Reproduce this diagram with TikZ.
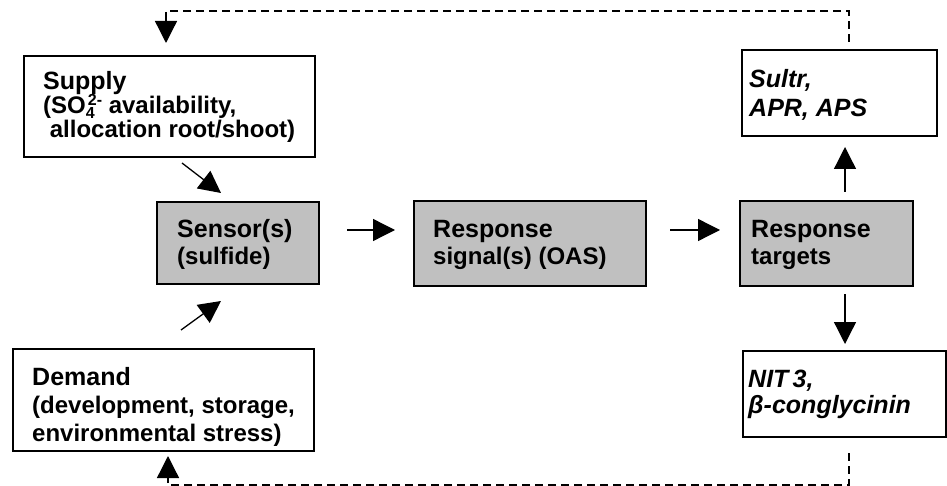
\documentclass[tikz,border=0pt]{standalone}
\usepackage{fontspec}
\setmainfont{Liberation Sans}
\usetikzlibrary{arrows.meta}
\definecolor{boxgray}{RGB}{192,192,192}
\begin{document}
\begin{tikzpicture}[x=1pt,y=-1pt,
  wbox/.style={draw=black, line width=1.8pt, fill=white, anchor=north west, inner sep=0pt},
  gbox/.style={draw=black, line width=1.8pt, fill=boxgray, anchor=north west, inner sep=0pt},
  ttl/.style={anchor=base west, inner sep=0pt, font=\fontsize{25}{28}\selectfont\bfseries},
  sub/.style={anchor=base west, inner sep=0pt, font=\fontsize{24}{28}\selectfont\bfseries},
  itl/.style={anchor=base west, inner sep=0pt, font=\fontsize{25}{28}\selectfont\bfseries\itshape},
  arr/.style={line width=1.3pt, -{Triangle[length=22pt,width=22pt]}},
  dsh/.style={line width=2pt, dash pattern=on 8pt off 5pt},
]
\useasboundingbox (0,0) rectangle (947,486);
% boxes
\node[wbox, minimum width=291pt, minimum height=101pt] (supply) at (23,55) {};
\node[gbox, minimum width=162pt, minimum height=82pt] (sensor) at (156,201) {};
\node[gbox, minimum width=232pt, minimum height=85pt] (signal) at (413,200) {};
\node[gbox, minimum width=173pt, minimum height=85pt] (targets) at (739,200) {};
\node[wbox, minimum width=195pt, minimum height=86pt] (sultr) at (741,49) {};
\node[wbox, minimum width=203pt, minimum height=86pt] (nit) at (742,350) {};
\node[wbox, minimum width=301pt, minimum height=102pt] (demand) at (12,348) {};
% texts
\node[anchor=north west, inner sep=0pt, align=left, font=\fontsize{24}{24}\selectfont\bfseries] (t1) at (43,71.5)
  {{\fontsize{25}{24}\selectfont Supply}\\
   (SO\smash{\rlap{\raisebox{-5pt}{\fontsize{16}{16}\selectfont 4}}\raisebox{8pt}{\fontsize{16}{16}\selectfont\hspace{2pt}2-}} availability,\\
   \ allocation root/shoot)};
\node[ttl] (t4) at (177,238) {Sensor(s)};
\node[sub] (t5) at (177,265) {(sulfide)};
\node[ttl] (t6) at (433,238) {Response};
\node[sub] (t7) at (433,265) {signal(s) (OAS)};
\node[ttl] (t8) at (751,238) {Response};
\node[sub] (t9) at (751,265) {targets};
\node[itl] (t10) at (749,88) {Sultr,};
\node[itl] (t11) at (749,117) {APR, APS};
\node[itl] (t12) at (748,387) {NIT\,3,};
\node[itl] (t13) at (748,413) {β-conglycinin};
\node[ttl] (t14) at (32,385) {Demand};
\node[sub] (t15) at (32,413) {(development, storage,};
\node[sub] (t16) at (32,441) {environmental stress)};
% arrow end points
\coordinate (a1s) at (182,163); \coordinate (a1e) at (221,193);
\coordinate (a2s) at (181,330); \coordinate (a2e) at (221,301);
\coordinate (a3s) at (347,230); \coordinate (a3e) at (395,230);
\coordinate (a4s) at (670,230); \coordinate (a4e) at (720,230);
\coordinate (a5s) at (845,192); \coordinate (a5e) at (845,147);
\coordinate (a6s) at (845,294); \coordinate (a6e) at (845,344);
\draw[arr] (a1s) -- (a1e);
\draw[arr] (a2s) -- (a2e);
\draw[arr] (a3s) -- (a3e);
\draw[arr] (a4s) -- (a4e);
\draw[arr] (a5s) -- (a5e);
\draw[arr] (a6s) -- (a6e);
% feedback loops
\coordinate (ftop) at (849,42); \coordinate (ftopc) at (849,11); \coordinate (ftopl) at (166,11); \coordinate (ftope) at (166,43);
\draw[dsh] (ftop) -- (ftopc) -- (ftopl) -- (166,22);
\draw[arr] (166,16) -- (ftope);
\coordinate (fbot) at (849,453); \coordinate (fbotc) at (849,485); \coordinate (fbotl) at (168,485); \coordinate (fbote) at (168,456);
\draw[dsh] (fbot) -- (fbotc) -- (fbotl) -- (168,476);
\draw[arr] (168,482) -- (fbote);
\end{tikzpicture}
\end{document}
